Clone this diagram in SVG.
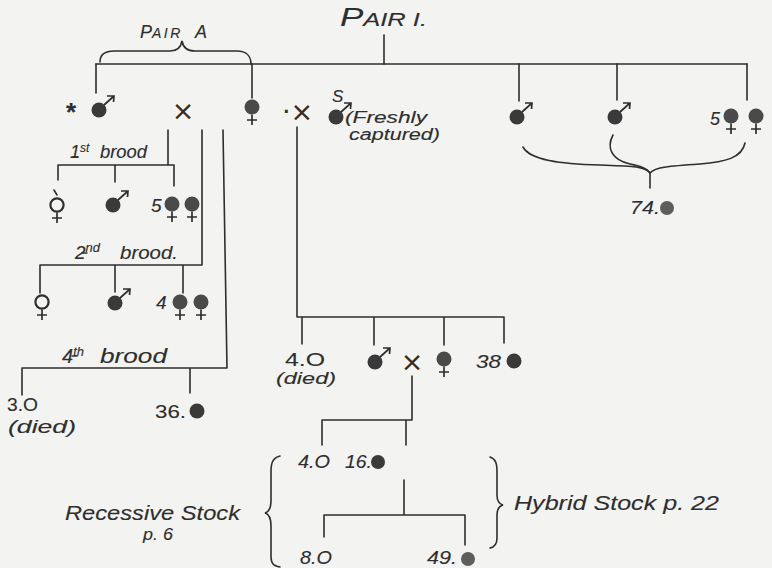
<svg xmlns="http://www.w3.org/2000/svg" xmlns:xlink="http://www.w3.org/1999/xlink" width="772" height="568" viewBox="0 0 772 568">
<style>
.ln{stroke:#2e2e2e;stroke-width:1.6;fill:none;stroke-linecap:round}
.t{font-family:"Liberation Sans","DejaVu Sans",sans-serif;font-style:italic;fill:#2e2e2e;stroke:#2e2e2e;stroke-width:0.12}
.u{font-family:"Liberation Sans","DejaVu Sans",sans-serif;font-style:normal;fill:#2e2e2e;stroke:#2e2e2e;stroke-width:0.12}
.x{font-family:"DejaVu Sans","Liberation Sans",sans-serif;font-style:normal;fill:#2e2e2e}
.dot{fill:#3a3a3a}
.gdot{fill:#5e5e5e}
</style>
<defs>
<g id="male">
<circle r="7.5" fill="#3a3a3a"/>
<path d="M5,-5 L15,-14 M8,-14 L15,-14 L14.5,-8" stroke="#2e2e2e" stroke-width="1.7" fill="none"/>
</g>
<g id="fem">
<circle r="7.5" fill="#4a4a4a"/>
<path d="M0,7.5 V18 M-5,13 H5" stroke="#2e2e2e" stroke-width="1.7" fill="none"/>
</g>
<g id="femo">
<circle r="6.6" fill="none" stroke="#2e2e2e" stroke-width="2.2"/>
<path d="M0,7.5 V18 M-5,13 H5" stroke="#2e2e2e" stroke-width="1.7" fill="none"/>
</g>
</defs>
<rect width="772" height="568" fill="#f3f3f1"/>

<g id="connectors" class="ln">
<path d="M384,35 V64"/>
<path d="M96,64 H747"/>
<path d="M96,64 V93 M252,64 V98"/>
<path d="M519,64 V101 M617,64 V100 M747,64 V100"/>
<path d="M100,62 C100,55 105,51 114,51 L170,51 C177,51 181,47 182,41 C183,47 187,51 195,51 L237,51 C246,51 251,56 251,64"/>
<path d="M168,130 V165 M58,165 H174 M58,165 V180 M115,165 V182 M174,165 V186"/>
<path d="M54,190 L57,195"/>
<path d="M202,130 V265 M40,265 H202 M40,265 V293 M115,265 V292 M183,265 V293"/>
<path d="M223,130 L227,368 M22,368 H227 M22,368 V395 M190,368 V393"/>
<path d="M297,127 V317 M297,317 H504 M302,317 V344 M374,317 V345 M444,317 V345 M504,317 V343"/>
<path d="M412,376 V420 M322,420 H412 M322,420 V445 M406,420 V445"/>
<path d="M404,480 V515 M324,515 H465 M324,515 V537 M465,515 V545"/>
<path d="M523,147 C530,160 560,164 600,165 C630,166 645,166 650,173"/>
<path d="M613,135 C606,148 612,160 630,164 C640,166 647,168 650,173"/>
<path d="M745,143 C742,158 725,162 700,164 C670,166 655,167 650,173"/>
<path d="M650,173 V188"/>
<path d="M280,456 C272,458 271,464 271,472 L271,500 C271,508 269,512 265,513 C269,514 271,518 271,526 L271,556 C271,563 273,566 280,567"/>
<path d="M490,457 C496,459 497,464 497,472 L497,495 C497,501 499,504 503,505 C499,506 497,509 497,515 L497,538 C497,544 495,547 490,548"/>
<path d="M73,157 H78 M82,253 H87 M72,356 H77" stroke-width="1.3"/>
</g>

<g id="title">
<text class="t" x="340" y="26" textLength="87" lengthAdjust="spacingAndGlyphs"><tspan font-size="26">P</tspan><tspan font-size="19">AIR I.</tspan></text>
</g>
<g id="pairA-label">
<text class="t" x="140" y="38"><tspan font-size="18">P</tspan><tspan font-size="14" letter-spacing="2.5">AIR</tspan><tspan x="195" font-size="18">A</tspan></text>
</g>

<g id="pairA-male">
<text class="u" x="71" y="121" font-size="26" font-weight="bold" text-anchor="middle">*</text>
<use xlink:href="#male" x="99" y="110"/>
</g>
<g id="cross1"><text class="x" x="183" y="120" font-size="27" text-anchor="middle">×</text></g>
<g id="pairA-female"><use xlink:href="#fem" x="252" y="107"/></g>
<g id="cross2"><text class="x" x="282" y="121" font-size="27">·×</text></g>
<g id="pairI-male">
<text class="t" x="332" y="102" font-size="17">S</text>
<use xlink:href="#male" x="336" y="117"/>
<text class="t" x="345" y="123" font-size="16" textLength="82" lengthAdjust="spacingAndGlyphs">(Freshly</text>
<text class="t" x="349" y="140" font-size="16" textLength="91" lengthAdjust="spacingAndGlyphs">captured)</text>
</g>

<g id="brood1-label"><text class="t" x="70" y="158" font-size="18">1<tspan font-size="12" dy="-6">st</tspan><tspan dy="6" x="100" textLength="47" lengthAdjust="spacingAndGlyphs">brood</tspan></text></g>
<g id="b1-female"><use xlink:href="#femo" x="57" y="205"/></g>
<g id="b1-male"><use xlink:href="#male" x="113" y="205"/></g>
<g id="b1-females"><text class="t" x="151" y="212" font-size="19">5</text><use xlink:href="#fem" x="172" y="204"/><use xlink:href="#fem" x="192" y="204"/></g>

<g id="brood2-label"><text class="t" x="75" y="259" font-size="19">2<tspan font-size="13" dy="-7">nd</tspan><tspan dy="7" x="120" textLength="58" lengthAdjust="spacingAndGlyphs">brood.</tspan></text></g>
<g id="b2-female"><use xlink:href="#femo" x="42" y="302"/></g>
<g id="b2-male"><use xlink:href="#male" x="115" y="303"/></g>
<g id="b2-females"><text class="t" x="156" y="309" font-size="19">4</text><use xlink:href="#fem" x="180" y="302"/><use xlink:href="#fem" x="201" y="302"/></g>

<g id="brood4-label"><text class="t" x="62" y="363" font-size="20">4<tspan font-size="13" dy="-7">th</tspan><tspan dy="7" x="100" textLength="67" lengthAdjust="spacingAndGlyphs">brood</tspan></text></g>
<g id="b4-white"><text class="u" x="7" y="411" font-size="19" textLength="31" lengthAdjust="spacingAndGlyphs">3.O</text><text class="t" x="8" y="433" font-size="18" textLength="68" lengthAdjust="spacingAndGlyphs">(died)</text></g>
<g id="b4-black"><text class="u" x="155" y="418" font-size="19" textLength="31" lengthAdjust="spacingAndGlyphs">36.</text><circle class="dot" cx="197" cy="411" r="7.5"/></g>

<g id="r-male1"><use xlink:href="#male" x="517" y="117"/></g>
<g id="r-male2"><use xlink:href="#male" x="615" y="117"/></g>
<g id="r-females"><text class="t" x="710" y="125" font-size="18">5</text><use xlink:href="#fem" x="731" y="116"/><use xlink:href="#fem" x="756" y="116"/></g>
<g id="n74"><text class="t" x="630" y="214" font-size="19" textLength="30" lengthAdjust="spacingAndGlyphs">74.</text><circle class="gdot" cx="667" cy="208" r="7"/></g>

<g id="p-white"><text class="u" x="285" y="366" font-size="19" textLength="40" lengthAdjust="spacingAndGlyphs">4.O</text><text class="t" x="276" y="384" font-size="17" textLength="60" lengthAdjust="spacingAndGlyphs">(died)</text></g>
<g id="p-male"><use xlink:href="#male" x="375" y="362"/></g>
<g id="cross3"><text class="x" x="412" y="371" font-size="27" text-anchor="middle">×</text></g>
<g id="p-female"><use xlink:href="#fem" x="444" y="359"/></g>
<g id="p-black"><text class="t" x="476" y="368" font-size="19" textLength="25" lengthAdjust="spacingAndGlyphs">38</text><circle class="dot" cx="514" cy="361" r="7.5"/></g>

<g id="n4w"><text class="t" x="298" y="468" font-size="19" textLength="32" lengthAdjust="spacingAndGlyphs">4.O</text></g>
<g id="n16"><text class="t" x="345" y="468" font-size="19" textLength="27" lengthAdjust="spacingAndGlyphs">16.</text><circle class="dot" cx="378" cy="462" r="7"/></g>
<g id="n8w"><text class="t" x="300" y="564" font-size="19" textLength="32" lengthAdjust="spacingAndGlyphs">8.O</text></g>
<g id="n49"><text class="t" x="427" y="564" font-size="19" textLength="30" lengthAdjust="spacingAndGlyphs">49.</text><circle class="gdot" cx="468" cy="559" r="7"/></g>

<g id="recessive"><text class="t" x="65" y="520" font-size="21" textLength="175" lengthAdjust="spacingAndGlyphs">Recessive Stock</text><text class="t" x="143" y="540" font-size="17" textLength="30" lengthAdjust="spacingAndGlyphs">p. 6</text></g>
<g id="hybrid"><text class="t" x="514" y="510" font-size="21" textLength="205" lengthAdjust="spacingAndGlyphs">Hybrid Stock p. 22</text></g>
</svg>
